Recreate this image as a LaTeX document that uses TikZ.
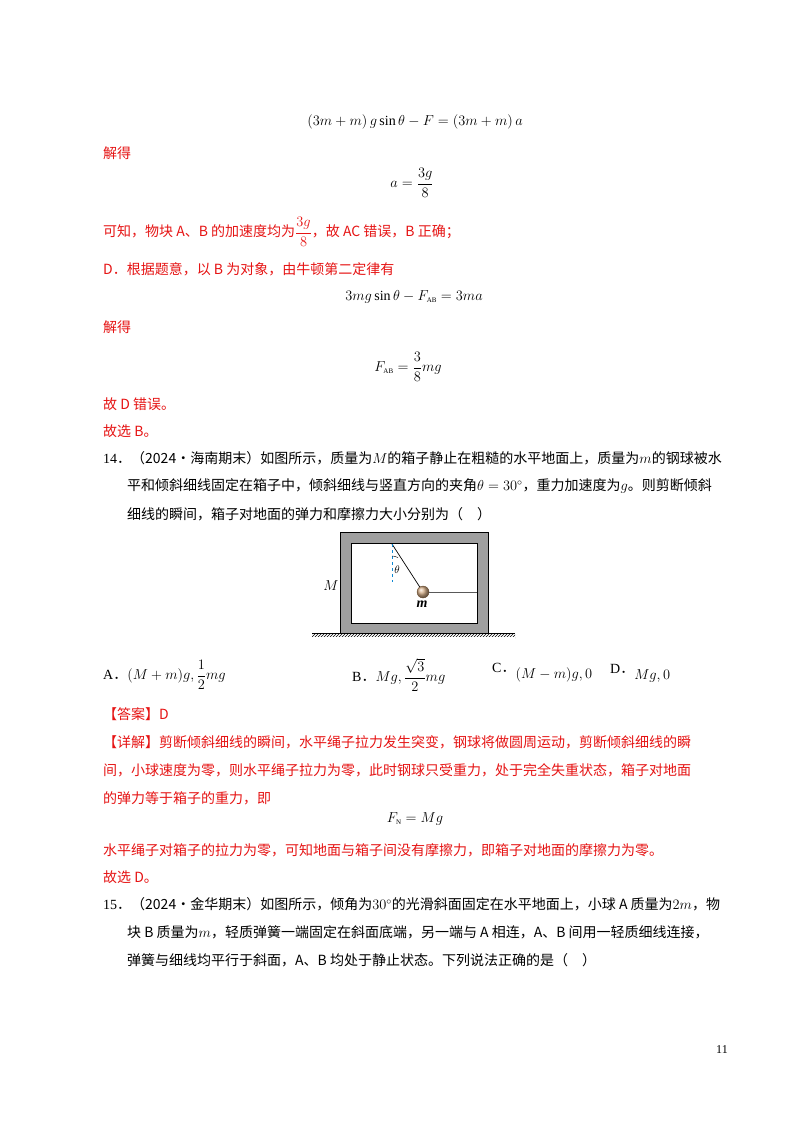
\documentclass[tikz,border=0pt]{standalone}
\usepackage{amsmath}
\usepackage{fontspec}
\setmainfont{Liberation Serif}
\newfontfamily\cjk{Noto Sans CJK SC}
\usetikzlibrary{patterns}
\definecolor{ans}{RGB}{230,20,20}
\begin{document}
\begin{tikzpicture}[x=1pt,y=-1pt,
  every node/.style={inner sep=0pt,font=\fontsize{14}{16}\selectfont},
  red/.style={anchor=west,text=ans},
  blk/.style={anchor=west,text=black},
  eq/.style={anchor=center}]
\useasboundingbox[fill=white] (0,0) rectangle (800,1132);
\node[eq] (e1) at (415,122) {$(3m+m)\,g\sin\theta-F=(3m+m)\,a$};
\node[red] (j1) at (103,153) {\cjk 解得};
\node[eq] (e2) at (412,183) {$a=\dfrac{3g}{8}$};
\node[red] (k1) at (103,232) {\cjk 可知，物块 A、B 的加速度均为$\dfrac{3g}{8}$，故 AC 错误，B 正确；};
\node[red] (d1) at (103,269) {\cjk D．根据题意，以 B 为对象，由牛顿第二定律有};
\node[eq] (e3) at (414,297) {$3mg\sin\theta-F_{\scriptscriptstyle\rm AB}=3ma$};
\node[red] (j2) at (103,327) {\cjk 解得};
\node[eq] (e4) at (408,367) {$F_{\scriptscriptstyle\rm AB}=\dfrac{3}{8}mg$};
\node[red] (g1) at (103,404) {\cjk 故 D 错误。};
\node[red] (g2) at (103,431) {\cjk 故选 B。};
\node[blk] (q14) at (103,458) {14{\cjk ．（2024·海南期末）如图所示，质量为}$M${\cjk 的箱子静止在粗糙的水平地面上，质量为}$m${\cjk 的钢球被水}};
\node[blk] (q14b) at (127,486) {\cjk 平和倾斜细线固定在箱子中，倾斜细线与竖直方向的夹角$\theta=30^\circ$，重力加速度为$g$。则剪断倾斜};
\node[blk] (q14c) at (127,514) {\cjk 细线的瞬间，箱子对地面的弹力和摩擦力大小分别为（\quad ）};
% figure
\fill[gray!75] (340,532) rectangle (488,633);
\draw[line width=0.6pt] (340,532) rectangle (488,633);
\fill[white] (351,543) rectangle (477,623);
\draw[line width=0.6pt] (351,543) rectangle (477,623);
\fill[pattern=north east lines] (312,633) rectangle (515,639);
\fill[white] (312,636.5) rectangle (515,640);
\draw[line width=0.7pt] (312,633) -- (515,633);
\coordinate (piv) at (392,544);
\coordinate (wall) at (477,592);
\node[circle,minimum size=12pt,shading=ball,ball color=brown!60!white,draw=brown!50!black,line width=0.3pt] (ball) at (423,592) {};
\draw[line width=0.7pt] (piv) -- (ball);
\draw[gray!70!black,line width=0.7pt] (ball) -- (wall);
\draw[cyan!70!blue,dashed,line width=0.7pt] (piv) -- ++(0,38) coordinate (dend);
\draw[line width=0.4pt] (392,556) arc (270:300:12) ;
\node (th) at (397,570) {\fontsize{11}{12}\selectfont$\theta$};
\node (M) at (331,586) {$M$};
\node (m) at (422,604) {\bfseries\itshape m};
% options
\node[blk] (oA) at (103,675) {A{\cjk ．}$(M+m)g,\dfrac12 mg$};
\node[blk] (oB) at (352,675) {B{\cjk ．}$Mg,\dfrac{\sqrt3}{2}mg$};
\node[blk] (oC) at (492,673) {C{\cjk ．}\raisebox{-6pt}{$(M-m)g,0$}};
\node[blk] (oD) at (610,673) {D{\cjk ．}\raisebox{-6pt}{$Mg,0$}};
\node[red] (an) at (103,714) {\cjk 【答案】D};
\node[red] (x1) at (103,742) {\cjk 【详解】剪断倾斜细线的瞬间，水平绳子拉力发生突变，钢球将做圆周运动，剪断倾斜细线的瞬};
\node[red] (x2) at (103,770) {\cjk 间，小球速度为零，则水平绳子拉力为零，此时钢球只受重力，处于完全失重状态，箱子对地面};
\node[red] (x3) at (103,798) {\cjk 的弹力等于箱子的重力，即};
\node[eq] (e5) at (415,819) {$F_{\scriptscriptstyle\rm N}=Mg$};
\node[red] (x4) at (103,850) {\cjk 水平绳子对箱子的拉力为零，可知地面与箱子间没有摩擦力，即箱子对地面的摩擦力为零。};
\node[red] (x5) at (103,877) {\cjk 故选 D。};
\node[blk] (q15) at (103,904) {15{\cjk ．（2024·金华期末）如图所示，倾角为}$30^\circ${\cjk 的光滑斜面固定在水平地面上，小球 A 质量为}$2m${\cjk ，物}};
\node[blk] (q15b) at (127,932) {\cjk 块 B 质量为$m$，轻质弹簧一端固定在斜面底端，另一端与 A 相连，A、B 间用一轻质细线连接，};
\node[blk] (q15c) at (127,960) {\cjk 弹簧与细线均平行于斜面，A、B 均处于静止状态。下列说法正确的是（\quad ）};
\node[blk] (pg) at (716,1050) {\fontsize{12}{12}\selectfont 11};
\end{tikzpicture}
\end{document}
